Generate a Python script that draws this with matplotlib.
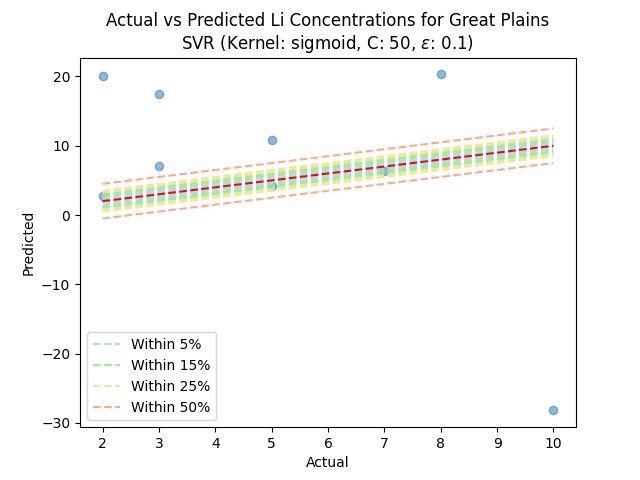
import matplotlib.pyplot as plt
import numpy as np

actual = np.array([2, 2, 3, 3, 5, 5, 7, 8, 10])
predicted = np.array([20.1, 2.8, 17.5, 7.1, 10.8, 4.2, 6.3, 20.3, -28.2])
pcts = [0.05, 0.15, 0.25, 0.50]
colors = ['lightblue', 'lightgreen', 'khaki', 'lightsalmon']

fig, ax = plt.subplots(figsize=(6.4, 4.8))
ax.scatter(actual, predicted, alpha=0.5)
xs = np.array([actual.min(), actual.max()])
m = actual.mean()
for p, c in zip(pcts, colors):
    ax.plot(xs, xs + p * m, '--', color=c, alpha=0.9, label=f'Within {int(p*100)}%')
    ax.plot(xs, xs - p * m, '--', color=c, alpha=0.9)
    if p < 0.5:
        # intermediate band
        q = p + 0.05
        ax.plot(xs, xs + q * m, '--', color=c, alpha=0.9)
        ax.plot(xs, xs - q * m, '--', color=c, alpha=0.9)
ax.plot(xs, xs, 'r--')
ax.set_xlabel('Actual')
ax.set_ylabel('Predicted')
ax.set_title('Actual vs Predicted Li Concentrations for Great Plains\nSVR (Kernel: sigmoid, C: 50, $\\epsilon$: 0.1)')
ax.legend(loc='lower left')
fig.savefig('out.png', dpi=100)
